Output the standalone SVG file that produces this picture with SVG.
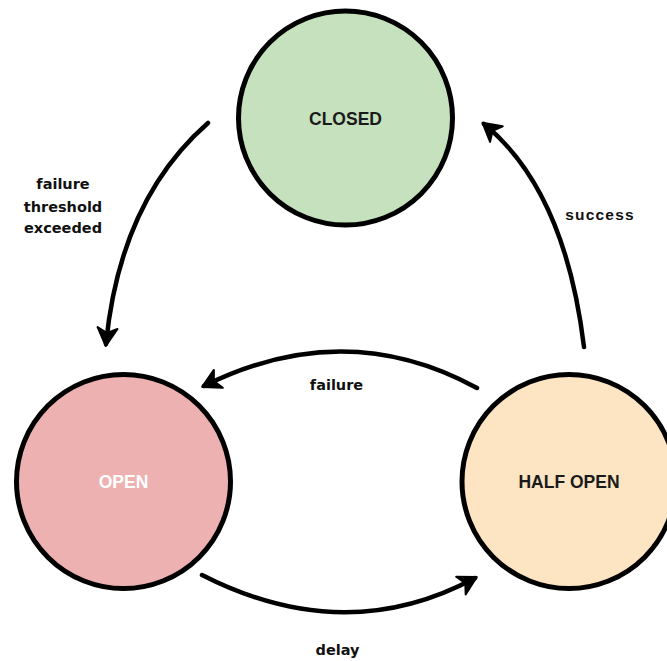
<svg xmlns="http://www.w3.org/2000/svg" width="667" height="661" viewBox="0 0 667 661">
  <style>
    .state { stroke: #000; stroke-width: 5; }
    .state-label { font-family: "Liberation Sans", Arial, sans-serif; font-weight: bold; font-size: 17.5px; text-anchor: middle; }
    .edge { fill: none; stroke: #000; stroke-width: 4.5; stroke-linecap: round; }
    .edge-label { font-family: "DejaVu Sans", sans-serif; font-weight: bold; font-size: 14.5px; fill: #111; text-anchor: middle; }
  </style>
  <defs>
    <marker id="arrow" viewBox="-20 -12 24 24" markerWidth="24" markerHeight="24" refX="0" refY="0" orient="auto" markerUnits="userSpaceOnUse">
      <path d="M2,0 L-16,-10 L-11,0 L-16,10 Z" fill="#000" stroke="#000" stroke-width="2" stroke-linejoin="round"/>
    </marker>
  </defs>

  <rect width="667" height="661" fill="#fff"/>

  <!-- state nodes -->
  <g id="closed">
    <circle class="state" cx="345.5" cy="118" r="107" fill="#c6e1bd"/>
    <text class="state-label" x="345.5" y="124.5" fill="#1a1a1a">CLOSED</text>
  </g>
  <g id="open">
    <circle class="state" cx="123.5" cy="481.5" r="107" fill="#eeb1b2"/>
    <text class="state-label" x="123.5" y="487.5" fill="#fff">OPEN</text>
  </g>
  <g id="half-open">
    <circle class="state" cx="569" cy="481.5" r="107" fill="#fde4c2"/>
    <text class="state-label" x="569" y="487.5" fill="#1a1a1a">HALF OPEN</text>
  </g>

  <!-- transitions -->
  <g id="connectors">
    <path class="edge" d="M208,123 Q120,200 106,344" marker-end="url(#arrow)"/>
    <path class="edge" d="M584,347 Q565,190 484,124" marker-end="url(#arrow)"/>
    <path class="edge" d="M477,388 Q345,316 204,386" marker-end="url(#arrow)"/>
    <path class="edge" d="M202,575 Q345,648 475,578" marker-end="url(#arrow)"/>
  </g>

  <!-- transition labels -->
  <g id="labels">
    <text class="edge-label" x="63" y="189">failure</text>
    <text class="edge-label" x="63" y="211.5">threshold</text>
    <text class="edge-label" x="63" y="233">exceeded</text>
    <text x="600" y="220" font-family="Liberation Sans, Arial, sans-serif" font-weight="bold" font-size="15.5" letter-spacing="1.2" fill="#111" text-anchor="middle">success</text>
    <text class="edge-label" x="336.5" y="390">failure</text>
    <text class="edge-label" x="337.5" y="655">delay</text>
  </g>
</svg>
